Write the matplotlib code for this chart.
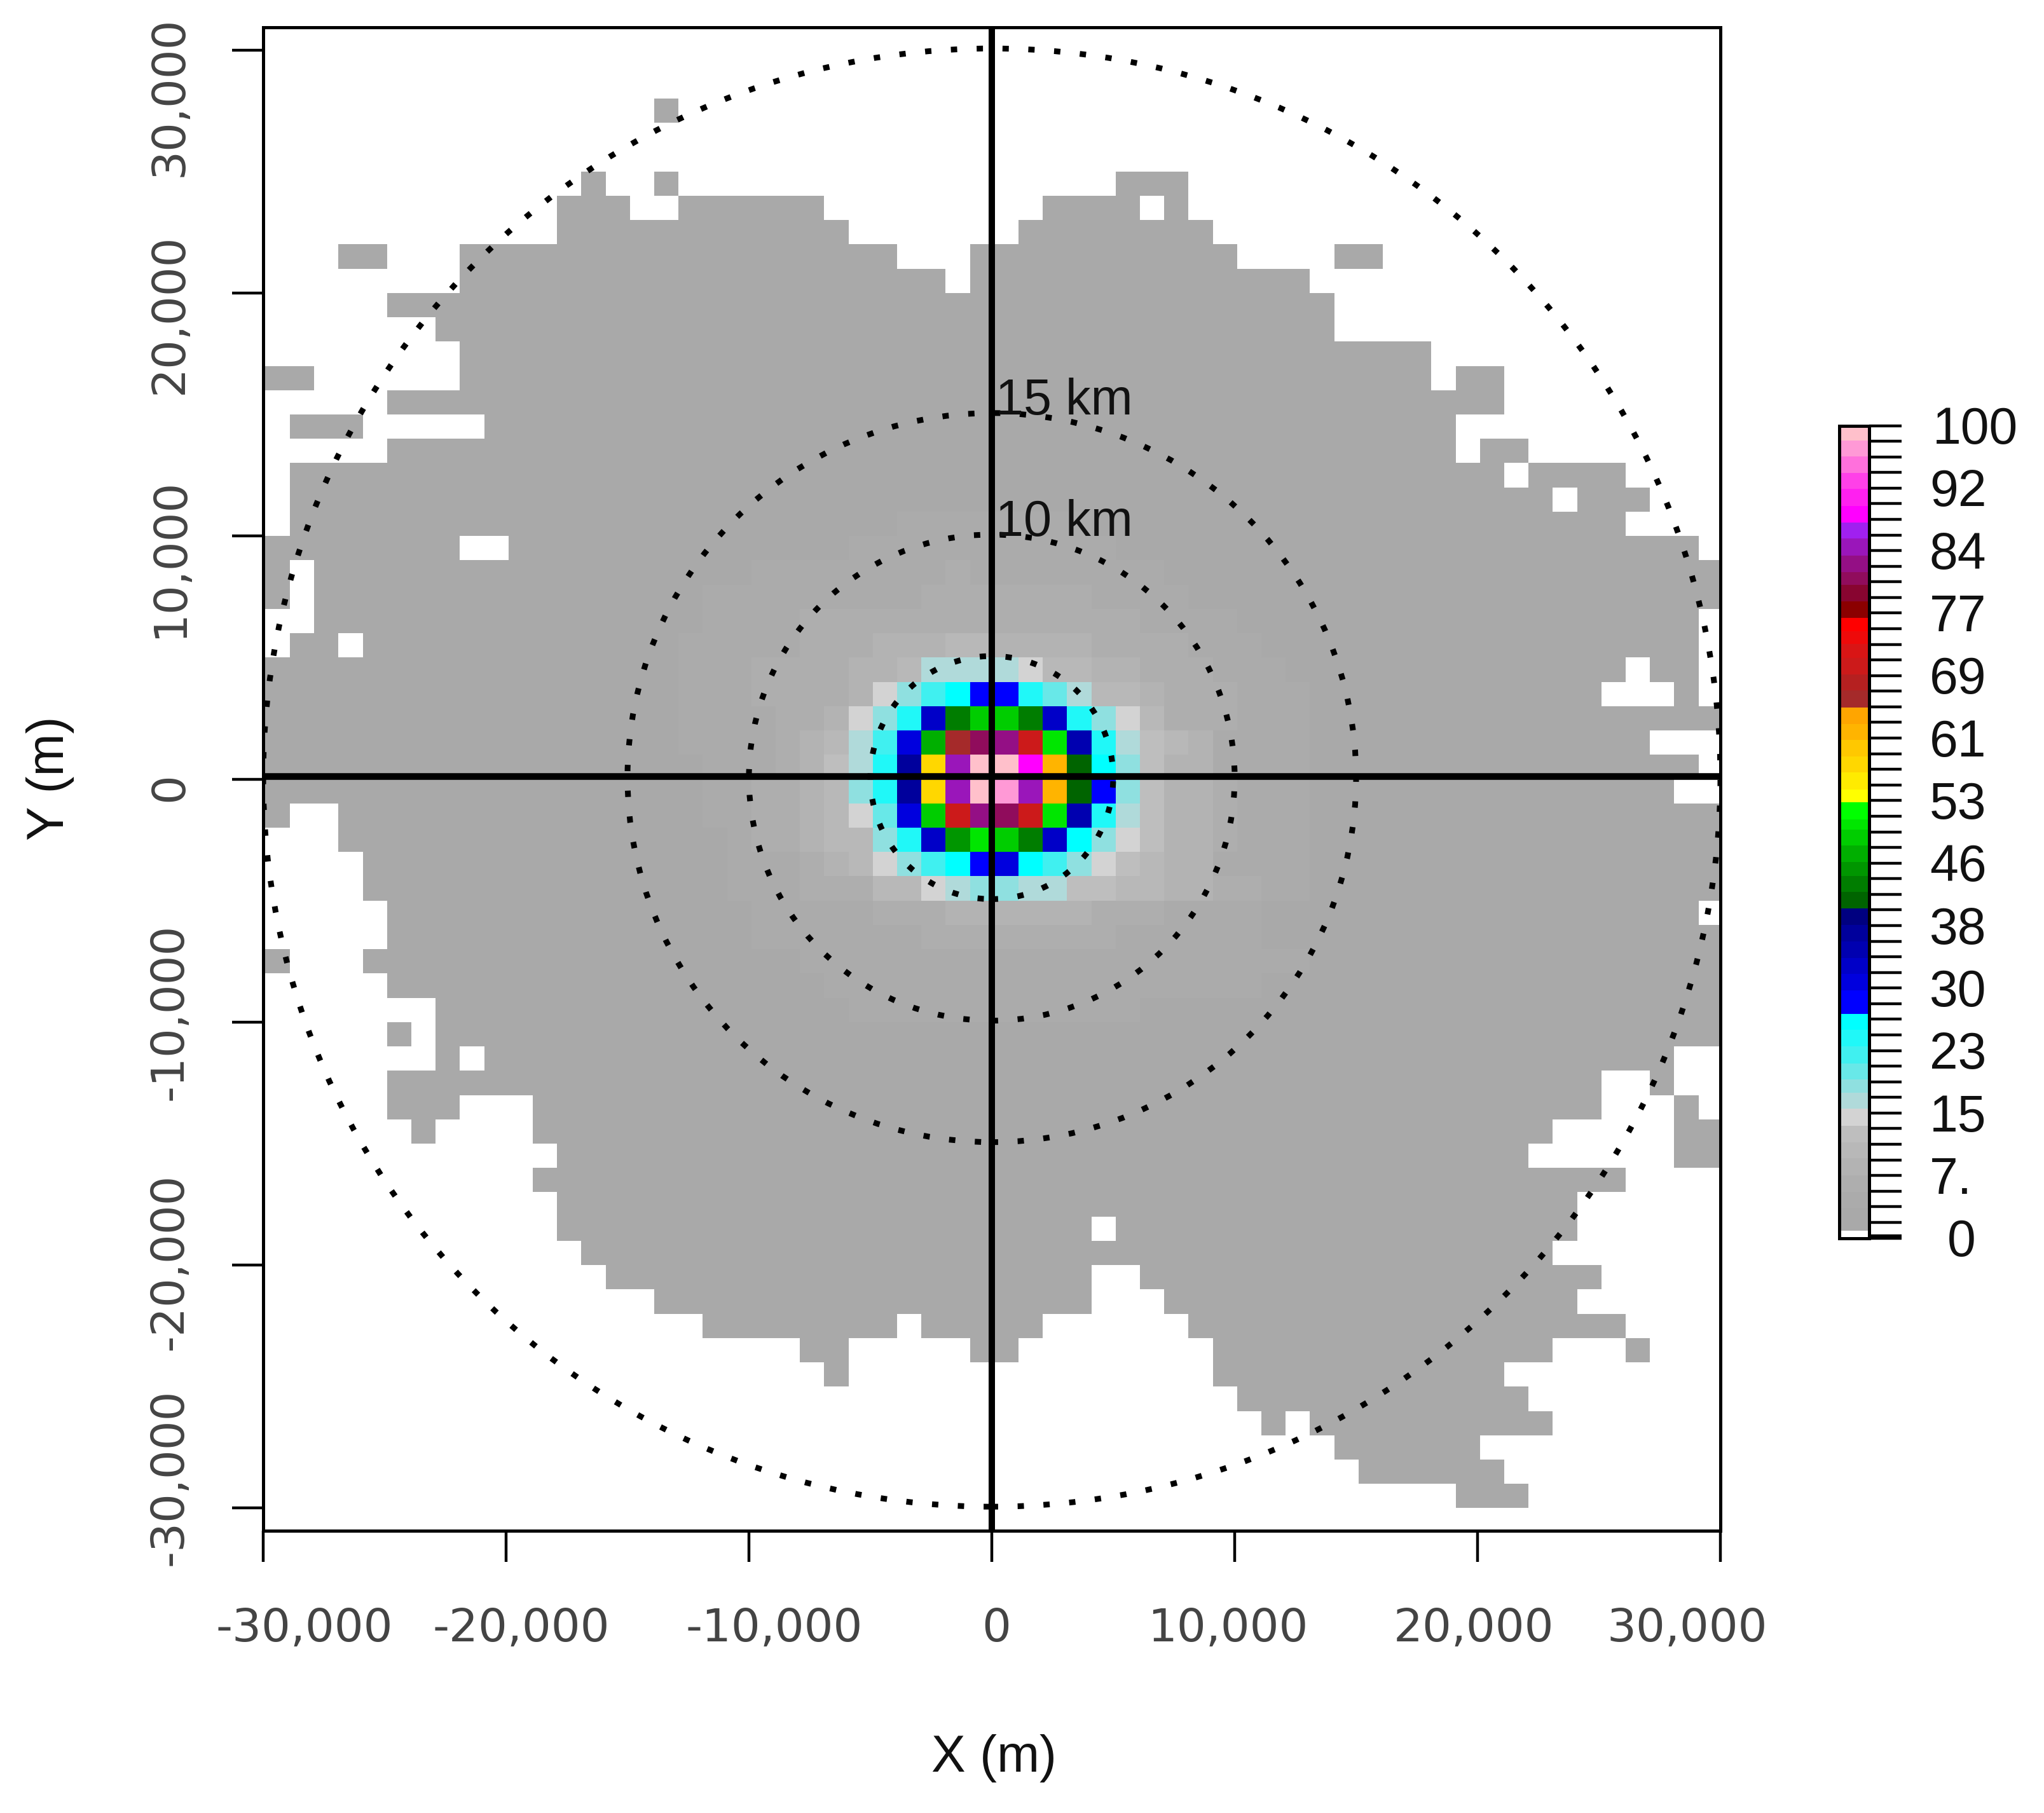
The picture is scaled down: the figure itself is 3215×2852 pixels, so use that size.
import numpy as np
import matplotlib
matplotlib.use('Agg')
from matplotlib import pyplot as plt
from matplotlib.colors import ListedColormap, BoundaryNorm
from matplotlib.patches import Circle
from matplotlib.transforms import blended_transform_factory

W, H = 3215, 2852

# colour scale (bottom to top)
breaks = [0, 0.9, 3.7, 5.7, 7.7, 9.8, 11.8, 13.8, 15.9, 17.9, 19.5, 21.5, 23.6, 25.6, 27.6, 30.5,
          32.5, 34.5, 36.5, 38.5, 40.6, 42.6, 44.6, 46.3, 48.3, 50.3, 51.5, 53.6, 55.2, 57.3, 59.3,
          61.3, 63.3, 65.3, 67.4, 69.4, 71.4, 73.1, 74.7, 76.3, 78.4, 80.4, 82.0, 84.0, 86.1, 88.1,
          90.1, 92.2, 94.2, 96.2, 98.2, 100]
colors = ['#FFFFFF', '#A9A9A9', '#ABABAB', '#AEAEAE', '#B3B3B3', '#B8B8B8', '#BEBEBE', '#D3D3D3',
          '#B0DADA', '#8FE0E0', '#68E8E8', '#40F0F0', '#20F8F8', '#00FFFF', '#0000FF', '#0000DE',
          '#0000C8', '#0000B0', '#00009C', '#000080', '#006400', '#007D00', '#009600', '#00AF00',
          '#00CD00', '#00E600', '#00FF00', '#FFFF00', '#FFEB00', '#FFD700', '#FFC800', '#FFB400',
          '#FFA500', '#A52A2A', '#B52020', '#CC1A1A', '#D91515', '#EE0A0A', '#FF0000', '#8B0000',
          '#880530', '#900C5C', '#940F85', '#9A16BA', '#A020F0', '#FF00FF', '#FF20F0', '#FF40E8',
          '#FF70DC', '#FF99D6', '#FFC0CB']
cb_labels = ['0', '7.', '15', '23', '30', '38', '46', '53', '61', '69', '77', '84', '92', '100']

# covered cells per row: top edge of the row in km -> (x from, x to) in km
gray_runs = {
    28: [(-14, -13)],
    25: [(-17, -16), (-14, -13), (5, 8)],
    24: [(-18, -15), (-13, -7), (2, 6), (7, 8)],
    23: [(-18, -6), (1, 9)],
    22: [(-27, -25), (-22, -4), (-1, 10), (14, 16)],
    21: [(-22, -2), (-1, 13)],
    20: [(-25, 14)],
    19: [(-23, 14)],
    18: [(-22, 18)],
    17: [(-30, -28), (-22, 18), (19, 21)],
    16: [(-25, 21)],
    15: [(-29, -26), (-21, 19)],
    14: [(-25, 19), (20, 22)],
    13: [(-29, 21), (22, 26)],
    12: [(-29, 23), (24, 27)],
    11: [(-29, 26)],
    10: [(-30, -22), (-20, 29)],
    9: [(-30, -29), (-28, 30)],
    8: [(-30, -29), (-28, 30)],
    7: [(-28, 29)],
    6: [(-29, -27), (-26, 29)],
    5: [(-30, 26), (27, 29)],
    4: [(-30, 25), (28, 29)],
    3: [(-30, 30)],
    2: [(-30, 27)],
    1: [(-30, 29)],
    0: [(-30, 28)],
    -1: [(-30, -29), (-27, 30)],
    -2: [(-27, 30)],
    -3: [(-26, 30)],
    -4: [(-26, 30)],
    -5: [(-25, 29)],
    -6: [(-25, 30)],
    -7: [(-30, -29), (-26, 30)],
    -8: [(-25, 30)],
    -9: [(-23, 30)],
    -10: [(-25, -24), (-23, 30)],
    -11: [(-23, -22), (-21, 28)],
    -12: [(-25, 25), (27, 28)],
    -13: [(-25, -22), (-19, 25), (28, 29)],
    -14: [(-24, -23), (-19, 23), (28, 30)],
    -15: [(-18, 22), (28, 30)],
    -16: [(-19, 26)],
    -17: [(-18, 24)],
    -18: [(-18, 4), (5, 24)],
    -19: [(-17, 23)],
    -20: [(-16, 4), (6, 25)],
    -21: [(-14, 4), (7, 24)],
    -22: [(-12, -4), (-3, 2), (8, 26)],
    -23: [(-8, -6), (-1, 1), (9, 23), (26, 27)],
    -24: [(-7, -6), (9, 21)],
    -25: [(10, 22)],
    -26: [(11, 12), (13, 23)],
    -27: [(14, 20)],
    -28: [(15, 21)],
    -29: [(19, 22)],
}

# pale grey shades around the centre, x from -13 to 12 km, one digit per cell
base_value = 2.3
shade_values = [2.3, 4.7, 6.7, 8.7, 10.8, 12.8]
shade_rows = {
    11: '00000000011111111000000000',
    10: '00000001111111111100000000',
    9: '00011111111211111111000000',
    8: '01111111112222222111100000',
    7: '01111222222222222221111000',
    6: '11111222333443333222211100',
    5: '11122223344444444332221110',
    4: '11122223444444444443222111',
    3: '11112235555555555554222111',
    2: '11112344444444444445431111',
    1: '01112355555555555555331111',
    0: '01122345555555555555332111',
    -1: '01122345555555555555332111',
    -2: '00122344555555555555332111',
    -3: '00111234555555555554331111',
    -4: '00111222445555555544332211',
    -5: '00011111222333333222111100',
    -6: '00011111112222222211111100',
    -7: '00000111111111111111111111',
    -8: '00000011111111111111111100',
    -9: '00000001111111111110000000',
}

# centre cells, x from -6 to 5 km; 0 keeps the shade above
center_rows = {
    5: [0, 0, 0, 16.9, 16.9, 16.9, 16.9, 14.8, 0, 0, 0, 0],
    4: [0, 14.8, 18.7, 22.5, 26.6, 29, 29, 24.6, 20.5, 16.9, 0, 0],
    3: [14.8, 18.7, 24.6, 33.5, 43.6, 49.3, 49.3, 43.6, 33.5, 24.6, 18.7, 14.8],
    2: [16.9, 22.5, 31.5, 47.3, 66.4, 81, 83, 70.4, 50.9, 35.5, 24.6, 16.9],
    1: [16.9, 24.6, 37.5, 58.3, 85, 99, 99, 89, 62.3, 41.6, 26.6, 18.7],
    0: [18.7, 24.6, 37.5, 58.3, 85, 99, 97, 85, 62.3, 41.6, 29, 18.7],
    -1: [14.8, 20.5, 31.5, 49.3, 70.4, 83, 81, 70.4, 50.9, 35.5, 24.6, 16.9],
    -2: [0, 18.7, 24.6, 33.5, 45.5, 50.9, 49.3, 43.6, 33.5, 26.6, 18.7, 14.8],
    -3: [0, 14.8, 18.7, 22.5, 26.6, 29, 31.5, 26.6, 22.5, 18.7, 14.8, 0],
    -4: [0, 0, 0, 14.8, 16.9, 18.7, 18.7, 16.9, 16.9, 0, 0, 0],
}

circle_radii = [5000, 10000, 15000, 30000]
circle_notes = [(10000, '10 km'), (15000, '15 km')]
axis_ticks = [-30000, -20000, -10000, 0, 10000, 20000, 30000]

# the tick labels sit squeezed in, not under their ticks
xlabel_centers = [479, 820, 1218, 1567, 1931, 2318, 2654]
ylabel_centers = [2324, 1985, 1592, 1238, 878, 494, 152]

# fill the 1 km grid
grid = np.zeros((62, 60))
for top, runs in gray_runs.items():
    for x0, x1 in runs:
        grid[top + 30, x0 + 30:x1 + 30] = base_value
for top, row in shade_rows.items():
    for i, ch in enumerate(row):
        if grid[top + 30, i + 17] > 0:
            grid[top + 30, i + 17] = shade_values[int(ch)]
for top, row in center_rows.items():
    for i, v in enumerate(row):
        if v > 0:
            grid[top + 30, i + 24] = v

cmap = ListedColormap(colors)
norm = BoundaryNorm(breaks, len(colors))


def axes_box(x0, x1, y0, y1):
    return [x0 / W, 1 - y1 / H, (x1 - x0) / W, (y1 - y0) / H]


fig = plt.figure(figsize=(W / 100, H / 100), dpi=100)
ax = fig.add_axes(axes_box(414, 2706, 43, 2408))

xedges = np.arange(-30000, 30001, 1000) + 100.0
xedges[0], xedges[-1] = -30000, 30000
yedges = np.arange(-31000, 31001, 1000)
ax.pcolormesh(xedges, yedges, grid, cmap=cmap, norm=norm, antialiased=False, linewidth=0)
ax.set_xlim(-30000, 30000)
ax.set_ylim(-30930, 30930)

for r in circle_radii:
    ax.add_patch(Circle((0, 60), r, fill=False, edgecolor='black', linewidth=6.5,
                        linestyle=(0, (1.1, 3.4))))
ax.axvline(0, color='black', linewidth=7.2)
ax.axhline(125, color='black', linewidth=7.6)
for r, note in circle_notes:
    ax.text(170, r, note, family='Liberation Sans', fontsize=57, color='#111111', va='baseline')

tick_names = [f'{t:,}' for t in axis_ticks]
ax.set_xticks(axis_ticks, [])
ax.set_yticks(axis_ticks, [])
ax.tick_params(axis='both', length=35, width=3.2)
for s in ax.spines.values():
    s.set_linewidth(3.6)

for name, xc in zip(tick_names, xlabel_centers):
    fig.text(xc / W, 1 - 2582 / H, name, fontsize=52, color='#444444', ha='center', va='baseline')
for name, yc in zip(tick_names, ylabel_centers):
    fig.text(287 / W, 1 - yc / H, name, fontsize=52, color='#444444', rotation=90,
             rotation_mode='anchor', ha='center', va='baseline')

fig.text(1563 / W, 1 - 2766 / H, 'X (m)', family='Liberation Sans', fontsize=58,
         ha='center', va='center', color='#111111')
fig.text(79 / W, 1 - 1224 / H, 'Y (m)', family='Liberation Sans', fontsize=58, rotation=90,
         ha='center', va='center', color='#111111')

# colour bar
cax = fig.add_axes(axes_box(2892.5, 2939.5, 669.5, 1947.5))
mids = (np.array(breaks[:-1]) + np.array(breaks[1:])) / 2
cax.pcolormesh([0, 1], breaks, mids.reshape(-1, 1), cmap=cmap, norm=norm, antialiased=False)
cax.set_xlim(0, 1)
cax.set_ylim(0, 100)
cax.set_xticks([])
cax.yaxis.tick_right()
cax.set_yticks(list(np.linspace(0, 100, 53)) + [0.3], [])
cax.tick_params(axis='y', length=37, width=3.2)
for s in cax.spines.values():
    s.set_linewidth(3.6)

label_tr = blended_transform_factory(fig.transFigure, cax.transData)
for i, lab in enumerate(cb_labels):
    xpx = {'100': 3040, '0': 3063}.get(lab, 3035)
    fig.text(xpx / W, i * 100 / 13 - 0.6, lab, transform=label_tr, family='Liberation Sans',
             fontsize=58, ha='left', va='center', color='#111111')

fig.savefig('out.png', dpi=100)
